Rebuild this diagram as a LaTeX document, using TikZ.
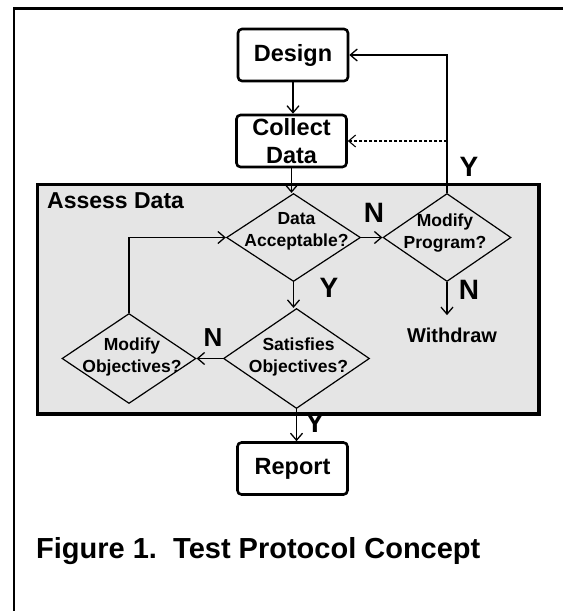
\documentclass[tikz,border=0pt]{standalone}
\usepackage{fontspec}
\setmainfont{Liberation Sans}
\usetikzlibrary{shapes.geometric, arrows.meta, positioning}
\definecolor{assessfill}{gray}{0.9}
\tikzset{
x=1pt, y=-1pt, % one unit is one pixel of the sketch, y runs downwards
>={Straight Barb[length=7pt, width=12pt]}, % open arrow heads
every node/.style={font=\bfseries}, % all text is bold
box/.style={draw, rectangle, rounded corners=4pt, line width=2.6pt, minimum width=110pt, minimum height=52pt, inner sep=2pt, align=center, font=\bfseries\fontsize{23.5}{28}\selectfont}, % process steps
decision/.style={draw, diamond, line width=1.2pt, inner sep=0pt}, % questions, text goes on top
dtext/.style={align=center, inner sep=0pt, font=\bfseries\fontsize{17.5}{22}\selectfont},
flag/.style={inner sep=0pt, font=\bfseries\fontsize{28}{28}\selectfont}, % Y and N answers
link/.style={->, line width=1.3pt},
}

\begin{document}
\begin{tikzpicture}
        \useasboundingbox (0,0) rectangle (563,611);
        % page frame, open to the right and bottom
        \draw[line width=2.7pt] (14,611) |- (563,8.7);

        % Assess Data block
        \node[draw, line width=3.5pt, fill=assessfill, minimum width=501.5pt, minimum height=229.5pt] (assess) at (288.25,299.25) {};
        \node[inner sep=0pt, anchor=base west, font=\bfseries\fontsize{23}{23}\selectfont] (assess-title) at (47,208) {Assess Data};

        % Steps
        \node[box] (design) at (293,55) {Design};
        \node[box] (collect) at (291.5,141) {Collect\\Data};
        \node[box] (report) at (292.5,468.5) {Report};

        % Questions
        \node[decision, minimum width=134pt, minimum height=88pt] (accept) at (293.5,237.5) {};
        \node[decision, minimum width=128pt, minimum height=88pt] (program) at (447,237.5) {};
        \node[decision, minimum width=146pt, minimum height=100pt] (satisfy) at (296.5,358.5) {};
        \node[decision, minimum width=134pt, minimum height=90pt] (objectives) at (129,358.5) {};

        \node[dtext] (accept-txt) at ([xshift=3pt, yshift=6pt]accept.center) {Data\\Acceptable?};
        \node[dtext] (program-txt) at ([xshift=-2pt, yshift=4pt]program.center) {Modify\\Program?};
        \node[dtext] (satisfy-txt) at ([xshift=2pt, yshift=2pt]satisfy.center) {Satisfies\\Objectives?};
        \node[dtext] (objectives-txt) at ([xshift=3pt, yshift=2pt]objectives.center) {Modify\\Objectives?};

        \node[inner sep=0pt, outer sep=0pt, below=46pt of program, xshift=5pt, font=\bfseries\fontsize{20}{20}\selectfont] (withdraw) {Withdraw};

        % Flow
        \draw[link] (design.south) -- (design.south |- collect.north);
        \draw[link] (collect.south) -- (collect.south |- accept.north);
        \draw[link] (accept.east) -- (program.west);
        \draw[link] (accept.south) -- (accept.south |- satisfy.north);
        \draw[link] (satisfy.west) -- (objectives.east);
        \draw[link] (objectives.north) |- (accept.west);
        \draw[link] (satisfy.south) -- (satisfy.south |- report.north);
        \draw[link, shorten >=13pt] (program.south) -- (program.south |- withdraw.north);
        \draw[link] (program.north) |- (design.east);
        \draw[link, line width=1.1pt, dash pattern=on 3pt off 2pt] (program.north |- collect.east) -- (collect.east);

        % Answers
        \node[flag] (y-program) at (469,167) {Y};
        \node[flag] (n-accept) at (374,213) {N};
        \node[flag] (n-program) at (469,290) {N};
        \node[flag] (y-accept) at (329,288) {Y};
        \node[flag, font=\bfseries\fontsize{26}{26}\selectfont] (n-satisfy) at (213,338) {N};
        \node[flag] (y-satisfy) at (315,423) {Y};

        \node[anchor=base west, inner sep=0pt, font=\bfseries\fontsize{29}{29}\selectfont] (caption) at (36,558) {Figure 1.\ \ Test Protocol Concept};
    \end{tikzpicture}
\end{document}
